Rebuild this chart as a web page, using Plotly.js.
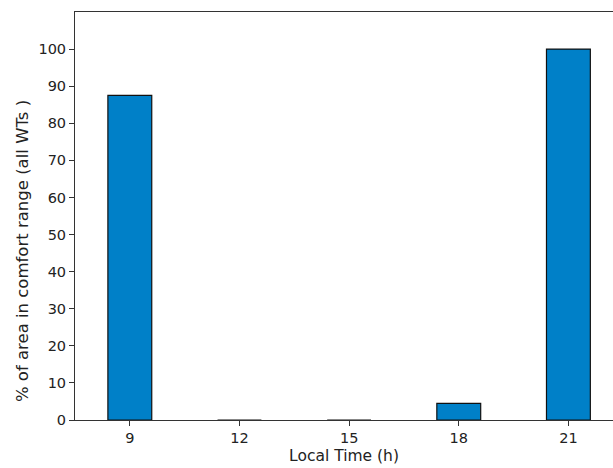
<!DOCTYPE html>
<html>
<head>
<meta charset="utf-8">
<script src="https://cdn.plot.ly/plotly-3.0.1.min.js"></script>
<style>html,body{margin:0;padding:0;background:#fff;}#chart{width:613px;height:468px;}</style>
</head>
<body>
<div id="chart"></div>
<script>
const hours = [9, 12, 15, 18, 21];
const comfortPct = [87.5, 0, 0, 4.5, 100];
const yTicks = [0, 10, 20, 30, 40, 50, 60, 70, 80, 90, 100];
const xLabel = 'Local Time (h)';
const yLabel = '% of area in comfort range (all WTs )';

const tickFont = {family: 'DejaVu Sans, sans-serif', size: 14.5, color: '#222'};
const labelFont = {family: 'DejaVu Sans, sans-serif', size: 15.5, color: '#222'};
const yLabelFont = {family: 'DejaVu Sans, sans-serif', size: 16.5, color: '#222'};

Plotly.newPlot('chart', [{
  type: 'bar',
  x: hours,
  y: comfortPct,
  width: 1.2,
  marker: {color: '#0080c8', line: {color: '#111', width: 1.2}},
  hoverinfo: 'x+y'
}], {
  width: 613, height: 468,
  margin: {l: 75, r: 0, t: 12, b: 48},
  paper_bgcolor: '#fff', plot_bgcolor: '#fff',
  font: tickFont,
  showlegend: false,
  xaxis: {
    range: [7.5, 22.22],
    tickvals: hours,
    ticktext: hours.map(String),
    ticks: 'outside', ticklen: 5, tickwidth: 1, tickcolor: '#333',
    showline: true, linecolor: '#333', linewidth: 1, mirror: true,
    showgrid: false, zeroline: false,
    tickfont: tickFont,
    title: {text: xLabel, font: labelFont, standoff: 4}
  },
  yaxis: {
    range: [0, 110],
    tickvals: yTicks,
    ticktext: yTicks.map(String),
    ticks: 'outside', ticklen: 5, tickwidth: 1, tickcolor: '#333',
    showline: true, linecolor: '#333', linewidth: 1,
    showgrid: false, zeroline: false,
    tickfont: tickFont
  },
  annotations: [{
    text: yLabel, textangle: -90, showarrow: false,
    xref: 'paper', yref: 'paper', x: -0.0985, y: 0.414,
    xanchor: 'center', yanchor: 'middle', font: yLabelFont
  }]
}, {displayModeBar: false, staticPlot: true});
</script>
</body>
</html>
